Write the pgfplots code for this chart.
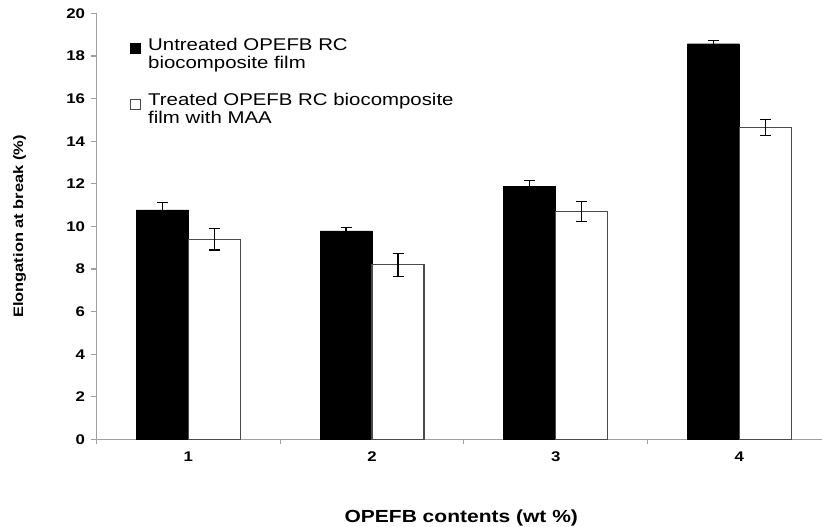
\documentclass[border=0pt]{standalone}
\usepackage{fontspec}
\setmainfont{Liberation Sans}[FakeStretch=1.2]
\usepackage{pgfplots}
\pgfplotsset{compat=1.18}
\definecolor{axgray}{HTML}{A0A0A0}
\definecolor{bordergray}{HTML}{4A4A4A}
\begin{document}
\begin{tikzpicture}
\useasboundingbox (-96.5pt,-87pt) rectangle (725.5pt,439.5pt);
\begin{axis}[
  at={(0pt,0pt)}, anchor=south west,
  scale only axis, width=725.5pt, height=426pt,
  xmin=0.5, xmax=4.45, ymin=0, ymax=20,
  ybar=0pt, bar width=52pt,
  axis lines*=left,
  axis line style={draw=axgray, line width=1.2pt},
  tick align=outside, major tick length=5pt,
  tick style={draw=axgray, line width=1.2pt},
  ytick={0,2,...,20},
  xtick={0.5,1.5,2.5,3.5},
  xticklabels={1,2,3,4},
  xticklabel style={xshift=91.85pt, yshift=-4pt},
  yticklabel style={xshift=-3pt},
  /pgf/number format/assume math mode=true,
  ticklabel style={font=\fontsize{14}{16}\selectfont\bfseries},
  ylabel={Elongation at break (\%)},
  ylabel style={at={(axis description cs:0,0.5)}, anchor=center, yshift=77pt,
    font=\fontsize{13.7}{16}\selectfont\bfseries},
  xlabel={OPEFB contents (wt \%)},
  xlabel style={at={(axis description cs:0.5,0)}, anchor=center, yshift=-78.3pt, xshift=2pt,
    font=\fontsize{17.5}{20}\selectfont\bfseries},
  legend style={draw=none, fill=none, at={(rel axis cs:0,1)}, anchor=north west,
    xshift=33.5pt, yshift=-24pt, inner sep=0pt, row sep=23pt,
    font=\fontsize{17}{18.5}\selectfont, cells={align=left}, nodes={inner sep=0pt},
    /tikz/every odd column/.append style={column sep=7pt}},
  legend cell align=left,
  legend image code/.code={\draw[#1, line width=1pt] (0pt,0pt) rectangle (10pt,10pt);},
  error bars/error bar style={black, line width=1.2pt},
  error bars/error mark options={rotate=90, black, line width=1.2pt, mark size=5.5pt},
]
\addplot[fill=black, draw=black, error bars/.cd, y dir=both, y explicit]
  coordinates {(1,10.78) +- (0,0.35) (2,9.80) +- (0,0.15) (3,11.89) +- (0,0.27) (4,18.58) +- (0,0.17)};
\addplot[fill=white, draw=bordergray, line width=1.3pt, error bars/.cd, y dir=both, y explicit]
  coordinates {(1,9.40) +- (0,0.50) (2,8.20) +- (0,0.55) (3,10.70) +- (0,0.48) (4,14.66) +- (0,0.38)};
\legend{Untreated OPEFB RC\\biocomposite film, Treated OPEFB RC biocomposite\\film with MAA}
\end{axis}
\end{tikzpicture}
\end{document}
